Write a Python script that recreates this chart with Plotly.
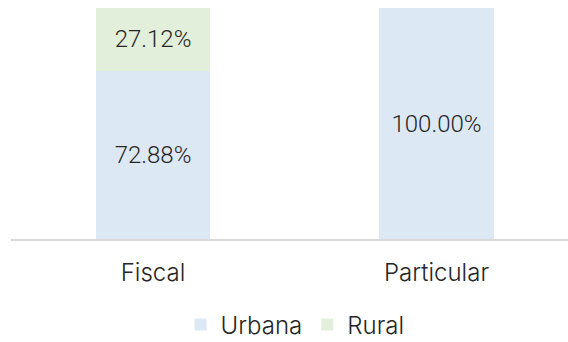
import plotly.graph_objects as go

# Share of schools by area, per administration type
categories = ["Fiscal", "Particular"]
urbana = [72.88, 100.00]
rural = [27.12, 0.0]

URBANA_COLOR = "#dde8f5"
RURAL_COLOR = "#e2efda"
TEXT_COLOR = "#262626"
FONT = "Inter"
NUM_FONT = "Roboto"


def labels(values):
    return [f"{v:.2f}%" if v > 0 else "" for v in values]


fig = go.Figure()
fig.add_trace(go.Bar(
    name="Urbana", x=categories, y=urbana, marker_color=URBANA_COLOR,
    text=labels(urbana), textposition="inside", insidetextanchor="middle",
    textfont=dict(size=24, color=TEXT_COLOR, family=NUM_FONT, weight=300),
    width=0.404, marker_line_width=0,
))
fig.add_trace(go.Bar(
    name="Rural", x=categories, y=rural, marker_color=RURAL_COLOR,
    text=labels(rural), textposition="inside", insidetextanchor="middle",
    textfont=dict(size=24, color=TEXT_COLOR, family=NUM_FONT, weight=300),
    width=0.404, marker_line_width=0,
))

fig.update_layout(
    barmode="stack",
    width=568, height=342,
    margin=dict(l=11, r=0, t=8, b=103, autoexpand=False),
    paper_bgcolor="white", plot_bgcolor="white",
    font=dict(family=FONT, color=TEXT_COLOR, size=22, weight=300),
    uniformtext=dict(mode=False),
    showlegend=True,
    legend=dict(
        orientation="h", x=0.51, xanchor="center", y=-0.372, yanchor="middle",
        traceorder="normal",
        font=dict(size=24, color=TEXT_COLOR, family=FONT, weight=300),
        itemwidth=30,
    ),
    xaxis=dict(
        range=[-0.5009, 1.4638], showline=True, linecolor="#d9d9d9", linewidth=2,
        showgrid=False, zeroline=False, ticks="", ticklabelstandoff=11,
        automargin=False,
        tickfont=dict(size=24, color=TEXT_COLOR, family=FONT, weight=300),
    ),
    yaxis=dict(range=[0, 100], visible=False, showgrid=False, zeroline=False),
)

fig.write_html("out.html")
